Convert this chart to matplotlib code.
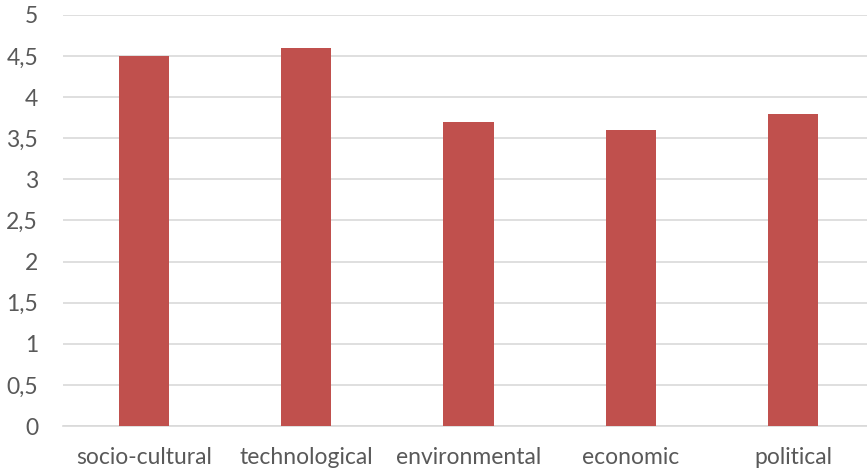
import matplotlib.pyplot as plt
import numpy as np

categories = ["socio-cultural", "technological", "environmental", "economic", "political"]
values = [4.5, 4.6, 3.7, 3.6, 3.8]
yticks = [0, 0.5, 1, 1.5, 2, 2.5, 3, 3.5, 4, 4.5, 5]
ytick_labels = ["0", "0,5", "1", "1,5", "2", "2,5", "3", "3,5", "4", "4,5", "5"]

plt.rcParams['font.family'] = ['Lato', 'DejaVu Sans']

fig = plt.figure(figsize=(8.67, 4.73), dpi=100)
# plot area runs a little past the right edge, like the cropped original
ax = fig.add_axes([63/867, 1 - 426/473, 811/867, 411/473])

x = np.arange(len(categories))
ax.bar(x, values, width=0.31, color='#C0504D', zorder=3)

ax.set_xlim(-0.5, len(categories) - 0.5)
ax.set_ylim(0, 5)
ax.set_yticks(yticks)
ax.set_yticklabels(ytick_labels)
ax.set_xticks(x)
ax.set_xticklabels(categories)

ax.yaxis.grid(True, color='#D9D9D9', linewidth=1.2, zorder=0)
for s in ['top', 'right', 'left']:
    ax.spines[s].set_visible(False)
ax.spines['bottom'].set_color('#D9D9D9')
ax.spines['bottom'].set_linewidth(1.2)
ax.tick_params(axis='both', length=0, labelsize=16.5, colors='#595959')
ax.tick_params(axis='y', pad=18)
ax.tick_params(axis='x', pad=15)

fig.savefig('out.png', dpi=100)
